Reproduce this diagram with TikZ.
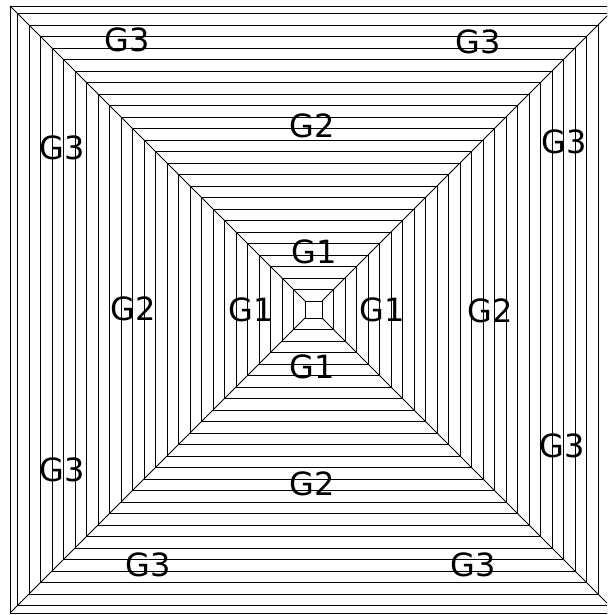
\documentclass[tikz,border=0pt]{standalone}
\usepackage{fontspec}
\newfontfamily\zonefont{DejaVu Sans}
\usetikzlibrary{positioning}
\definecolor{cLine}{HTML}{000000}
\definecolor{cText}{HTML}{000000}
\tikzset{
  ring/.style={draw=cLine, line width=0.9pt},
  zonelabel/.style={font=\zonefont\fontsize{32}{32}\selectfont, text=cText, inner sep=0pt},
}

\begin{document}
\begin{tikzpicture}[x=1pt, y=-1pt]
  \useasboundingbox (0,0) rectangle (607,615);
  \clip (0,0) rectangle (607,615);
  \begin{scope}[shift={(313.5,309.5)}]
    % outer frame
    \draw[ring] (-303.5,-303.5) rectangle (303.5,303.5);
    % concentric rings, inner square first
    \foreach \k in {0,...,25}{
      \pgfmathsetmacro\d{8.5+11.5*\k}
      \draw[ring] (-\d,-\d) rectangle (\d,\d);
    }
    % corner diagonals
    \coordinate (tlo) at (-303.5,-303.5);
    \coordinate (tro) at (303.5,-303.5);
    \coordinate (blo) at (-303.5,303.5);
    \coordinate (bro) at (303.5,303.5);
    \coordinate (tli) at (-8.5,-8.5);
    \coordinate (tri) at (8.5,-8.5);
    \coordinate (bli) at (-8.5,8.5);
    \coordinate (bri) at (8.5,8.5);
    \draw[ring] (tlo) -- (tli) (tro) -- (tri) (blo) -- (bli) (bro) -- (bri);
  \end{scope}
  % zone labels
  \node[zonelabel] (g1t) at (314,252) {G1};
  \node[zonelabel] (g1l) at (251,310) {G1};
  \node[zonelabel] (g1r) at (382,310) {G1};
  \node[zonelabel] (g1b) at (312,367) {G1};
  \node[zonelabel] (g2t) at (312,126) {G2};
  \node[zonelabel] (g2l) at (133,309) {G2};
  \node[zonelabel] (g2r) at (490,311) {G2};
  \node[zonelabel] (g2b) at (312,484) {G2};
  \node[zonelabel] (g3tl) at (127,40) {G3};
  \node[zonelabel] (g3tr) at (478,42) {G3};
  \node[zonelabel] (g3lu) at (62,148) {G3};
  \node[zonelabel] (g3ru) at (564,142) {G3};
  \node[zonelabel] (g3ll) at (62,470) {G3};
  \node[zonelabel] (g3rl) at (562,446) {G3};
  \node[zonelabel] (g3bl) at (148,565) {G3};
  \node[zonelabel] (g3br) at (473,565) {G3};
\end{tikzpicture}
\end{document}
